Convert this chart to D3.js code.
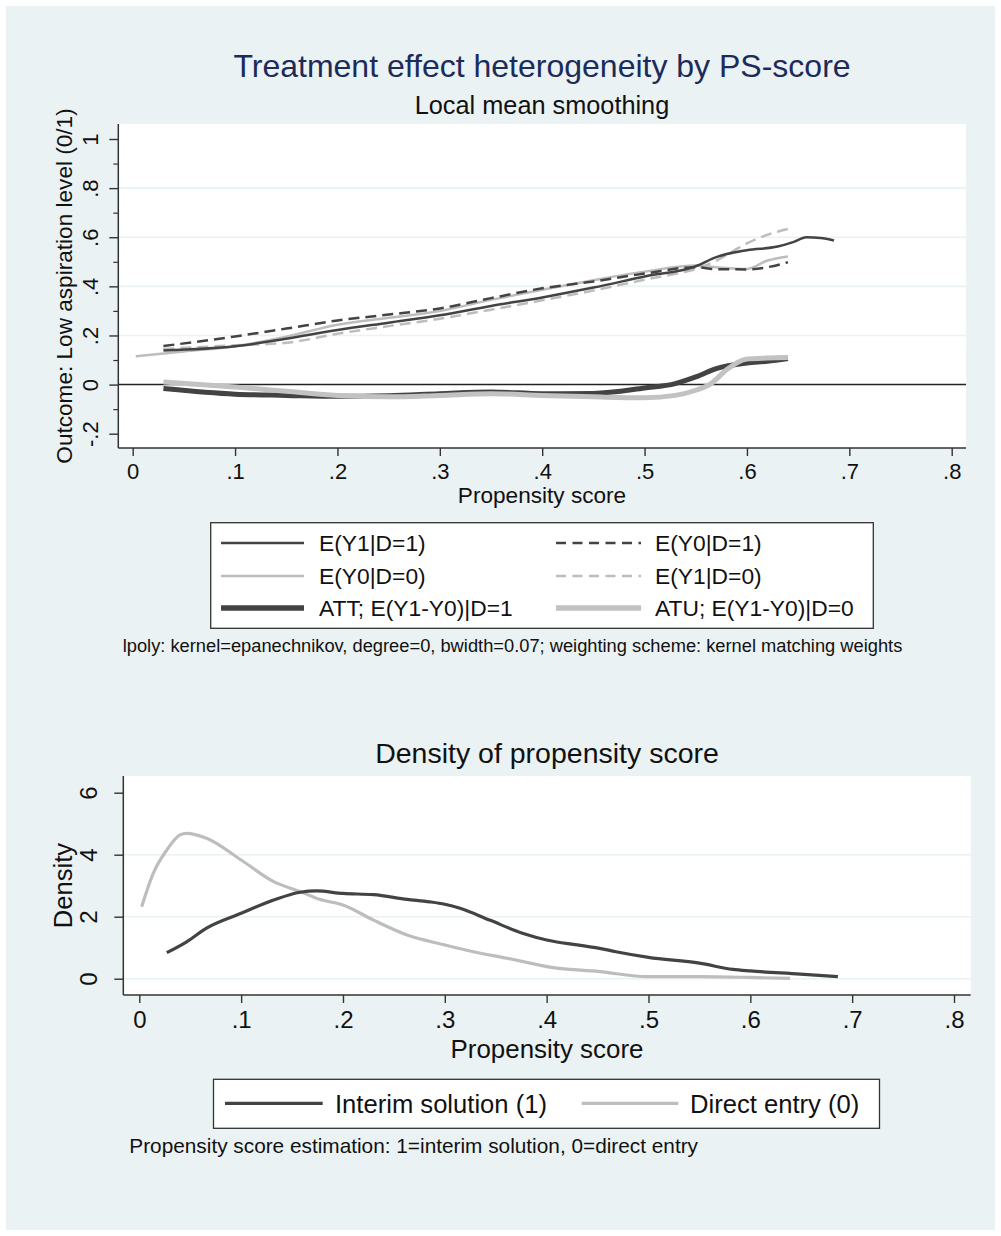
<!DOCTYPE html>
<html>
<head>
<meta charset="utf-8">
<script src="https://cdn.jsdelivr.net/npm/d3@7"></script>
<style>
  body { margin: 0; background: #fff; }
  text { font-family: 'Liberation Sans', Arial, Helvetica, sans-serif; fill: #111; }
</style>
</head>
<body>
<svg id="chart" width="1001" height="1236"></svg>
<script>
// ---- top panel: local mean smoothing (lpoly) ----
var y1d1X = [0.03, 0.1, 0.15, 0.2, 0.25, 0.3, 0.35, 0.4, 0.45, 0.5, 0.55, 0.57, 0.6, 0.63, 0.645, 0.658, 0.672, 0.685];
var y1d1Y = [0.139, 0.156, 0.187, 0.222, 0.252, 0.282, 0.32, 0.355, 0.395, 0.44, 0.482, 0.519, 0.547, 0.562, 0.58, 0.6, 0.597, 0.587];

var y0d1X = [0.03, 0.1, 0.15, 0.2, 0.25, 0.3, 0.35, 0.4, 0.45, 0.5, 0.55, 0.57, 0.6, 0.62, 0.64];
var y0d1Y = [0.157, 0.196, 0.228, 0.261, 0.285, 0.31, 0.352, 0.392, 0.42, 0.452, 0.478, 0.47, 0.469, 0.478, 0.498];

var y0d0X = [0.003, 0.05, 0.1, 0.15, 0.2, 0.25, 0.3, 0.35, 0.4, 0.45, 0.5, 0.55, 0.57, 0.6, 0.62, 0.64];
var y0d0Y = [0.115, 0.135, 0.156, 0.195, 0.244, 0.272, 0.3, 0.345, 0.386, 0.425, 0.46, 0.485, 0.478, 0.471, 0.505, 0.522];

var y1d0X = [0.03, 0.1, 0.15, 0.2, 0.25, 0.3, 0.35, 0.4, 0.45, 0.5, 0.53, 0.55, 0.57, 0.6, 0.62, 0.64];
var y1d0Y = [0.145, 0.16, 0.17, 0.207, 0.238, 0.268, 0.305, 0.343, 0.383, 0.427, 0.451, 0.47, 0.505, 0.575, 0.61, 0.634];

var attX = [0.03, 0.1, 0.15, 0.2, 0.25, 0.3, 0.35, 0.4, 0.45, 0.5, 0.53, 0.55, 0.57, 0.6, 0.62, 0.64];
var attY = [-0.016, -0.039, -0.044, -0.048, -0.045, -0.037, -0.03, -0.037, -0.036, -0.014, 0.004, 0.031, 0.065, 0.088, 0.095, 0.106];

var atuX = [0.03, 0.1, 0.15, 0.2, 0.25, 0.3, 0.35, 0.4, 0.45, 0.5, 0.53, 0.55, 0.565, 0.58, 0.6, 0.62, 0.64];
var atuY = [0.011, -0.01, -0.027, -0.044, -0.05, -0.044, -0.037, -0.044, -0.05, -0.054, -0.044, -0.023, 0.004, 0.06, 0.104, 0.108, 0.11];

var topLegend = ["E(Y1|D=1)", "E(Y0|D=1)", "E(Y0|D=0)", "E(Y1|D=0)", "ATT; E(Y1-Y0)|D=1", "ATU; E(Y1-Y0)|D=0"];
var topYTicks = [-0.2, 0, 0.2, 0.4, 0.6, 0.8, 1];
var topYMinor = [-0.1, 0.1, 0.3, 0.5, 0.7, 0.9];
var topGrid = [0.2, 0.4, 0.6, 0.8];

// ---- bottom panel: density of propensity score ----
var interimX = [0.027, 0.0465, 0.066, 0.1, 0.132, 0.158, 0.174, 0.2, 0.23, 0.263, 0.285, 0.3, 0.315, 0.344, 0.377, 0.4, 0.43, 0.452, 0.468, 0.5, 0.55, 0.583, 0.6, 0.649, 0.686];
var interimY = [0.84, 1.19, 1.63, 2.11, 2.54, 2.79, 2.83, 2.75, 2.71, 2.56, 2.48, 2.4, 2.27, 1.89, 1.46, 1.25, 1.09, 0.98, 0.87, 0.69, 0.5, 0.3, 0.25, 0.15, 0.065];

var directX = [0.0023, 0.0137, 0.027, 0.04, 0.0465, 0.066, 0.1, 0.132, 0.158, 0.177, 0.2, 0.23, 0.263, 0.3, 0.328, 0.361, 0.393, 0.4, 0.452, 0.5, 0.55, 0.6, 0.639];
var directY = [2.32, 3.4, 4.15, 4.64, 4.69, 4.53, 3.83, 3.13, 2.81, 2.56, 2.38, 1.89, 1.41, 1.09, 0.87, 0.66, 0.44, 0.39, 0.23, 0.065, 0.065, 0.04, 0.01];

var bottomLegend = ["Interim solution (1)", "Direct entry (0)"];
var bottomYTicks = [0, 2, 4, 6];
var bottomGrid = [0, 2, 4];

var xTicks = [0, 0.1, 0.2, 0.3, 0.4, 0.5, 0.6, 0.7, 0.8];

var dark = "#434343";
var light = "#bdbdbd";

var svg = d3.select("#chart");

svg.append("rect").attr("width", 1001).attr("height", 1236).attr("fill", "#fff");
svg.append("rect").attr("x", 6).attr("y", 6).attr("width", 989).attr("height", 1224).attr("fill", "#eaf2f3");

// stata-like labels: .2 instead of 0.2
function fmt(v) {
  return String(+v.toFixed(2)).replace(/^(-?)0\./, "$1.");
}

function zip(xs, ys) {
  return xs.map(function(x, i) { return [x, ys[i]]; });
}

function drawPanel(p) {
  var g = svg.append("g");

  g.append("rect")
    .attr("x", p.left).attr("y", p.top)
    .attr("width", p.right - p.left).attr("height", p.bottom - p.top)
    .attr("fill", "#fff");

  g.selectAll(".grid")
    .data(p.grid)
    .enter()
    .append("line")
    .attr("x1", p.left).attr("x2", p.right)
    .attr("y1", function(d) { return p.y(d); })
    .attr("y2", function(d) { return p.y(d); })
    .attr("stroke", "#eaf2f3")
    .attr("stroke-width", 1.6);

  if (p.zeroLine) {
    g.append("line")
      .attr("x1", p.left).attr("x2", p.right)
      .attr("y1", p.y(0)).attr("y2", p.y(0))
      .attr("stroke", "#222").attr("stroke-width", 1.5);
  }

  // y axis, labels turned like stata does
  var ya = g.append("g")
    .attr("transform", "translate(" + p.left + ",0)")
    .attr("color", "#333")
    .call(d3.axisLeft(p.y).tickValues(p.yTicks).tickSize(9).tickFormat(fmt));
  ya.select(".domain").remove();
  ya.selectAll("line").attr("stroke-width", 1.4);
  ya.selectAll("text")
    .attr("transform", "rotate(-90)")
    .attr("x", 0).attr("y", -p.yLabelOff).attr("dy", 0)
    .attr("text-anchor", "middle")
    .style("font-size", p.tickFont + "px");

  if (p.yMinor) {
    var ym = g.append("g")
      .attr("transform", "translate(" + p.left + ",0)")
      .attr("color", "#333")
      .call(d3.axisLeft(p.y).tickValues(p.yMinor).tickSize(5).tickFormat(""));
    ym.select(".domain").remove();
    ym.selectAll("line").attr("stroke-width", 1.2);
  }

  var xa = g.append("g")
    .attr("transform", "translate(0," + p.bottom + ")")
    .attr("color", "#333")
    .call(d3.axisBottom(p.x).tickValues(xTicks).tickSize(8).tickFormat(fmt));
  xa.select(".domain").remove();
  xa.selectAll("line").attr("stroke-width", 1.4);
  xa.selectAll("text")
    .attr("y", p.xLabelOff).attr("dy", 0)
    .style("font-size", p.tickFont + "px");

  g.append("line")
    .attr("x1", p.left).attr("x2", p.left)
    .attr("y1", p.top).attr("y2", p.bottom)
    .attr("stroke", "#333").attr("stroke-width", 1.5);
  g.append("line")
    .attr("x1", p.left).attr("x2", p.right)
    .attr("y1", p.bottom).attr("y2", p.bottom)
    .attr("stroke", "#333").attr("stroke-width", 1.5);

  var line = d3.line()
    .x(function(d) { return p.x(d[0]); })
    .y(function(d) { return p.y(d[1]); })
    .curve(d3.curveMonotoneX);

  p.series.forEach(function(s) {
    g.append("path")
      .datum(s.data)
      .attr("d", line)
      .attr("fill", "none")
      .attr("stroke", s.color)
      .attr("stroke-width", s.width)
      .attr("stroke-dasharray", s.dash || null);
  });
}

// ---------- top panel ----------
var topSeries = [
  { data: zip(attX, attY), color: dark, width: 5 },
  { data: zip(atuX, atuY), color: "#c2c2c2", width: 5 },
  { data: zip(y1d0X, y1d0Y), color: light, width: 2.5, dash: "11,6" },
  { data: zip(y0d0X, y0d0Y), color: light, width: 2.5 },
  { data: zip(y0d1X, y0d1Y), color: dark, width: 2.5, dash: "11,6" },
  { data: zip(y1d1X, y1d1Y), color: dark, width: 2.5 }
];

drawPanel({
  left: 118.3, right: 966, top: 124, bottom: 448,
  x: d3.scaleLinear().domain([0, 0.8]).range([132.7, 951.7]),
  y: d3.scaleLinear().domain([-0.2, 1]).range([433.7, 139]),
  yTicks: topYTicks, yMinor: topYMinor, grid: topGrid, zeroLine: true,
  tickFont: 22, yLabelOff: 20, xLabelOff: 31,
  series: topSeries
});

svg.append("text")
  .attr("x", 542).attr("y", 77)
  .attr("text-anchor", "middle")
  .style("font-size", "32px").style("fill", "#1c2b5a")
  .text("Treatment effect heterogeneity by PS-score");

svg.append("text")
  .attr("x", 542).attr("y", 114)
  .attr("text-anchor", "middle")
  .style("font-size", "25.3px")
  .text("Local mean smoothing");

svg.append("text")
  .attr("transform", "translate(72,286) rotate(-90)")
  .attr("text-anchor", "middle")
  .style("font-size", "22.6px")
  .text("Outcome: Low aspiration level (0/1)");

svg.append("text")
  .attr("x", 542).attr("y", 503)
  .attr("text-anchor", "middle")
  .style("font-size", "22.6px")
  .text("Propensity score");

// top legend, two columns
var topKeys = [
  { color: dark, width: 2.5 }, { color: dark, width: 2.5, dash: "10,6.5" },
  { color: light, width: 2.5 }, { color: light, width: 2.5, dash: "10,6.5" },
  { color: dark, width: 5.5 }, { color: "#c2c2c2", width: 5.5 }
];
var tl = svg.append("g");
tl.append("rect")
  .attr("x", 210.7).attr("y", 522.7).attr("width", 662.6).attr("height", 105.6)
  .attr("fill", "#fff").attr("stroke", "#333").attr("stroke-width", 1.3);
var colKey = [[221, 304, 319], [556, 641, 655]];
var rowY = [543, 576, 608];
topLegend.forEach(function(label, i) {
  var c = colKey[i % 2], ry = rowY[Math.floor(i / 2)];
  var k = topKeys[i];
  tl.append("line")
    .attr("x1", c[0]).attr("x2", c[1]).attr("y1", ry).attr("y2", ry)
    .attr("stroke", k.color).attr("stroke-width", k.width)
    .attr("stroke-dasharray", k.dash || null);
  tl.append("text")
    .attr("x", c[2]).attr("y", ry).attr("dy", "0.36em")
    .style("font-size", "22.8px")
    .text(label);
});

svg.append("text")
  .attr("x", 122.7).attr("y", 652)
  .style("font-size", "18.3px")
  .text("lpoly: kernel=epanechnikov, degree=0, bwidth=0.07; weighting scheme: kernel matching weights");

// ---------- bottom panel ----------
drawPanel({
  left: 123.3, right: 970.7, top: 776, bottom: 995,
  x: d3.scaleLinear().domain([0, 0.8]).range([139.3, 954]),
  y: d3.scaleLinear().domain([0, 6]).range([978.7, 792.7]),
  yTicks: bottomYTicks, yMinor: null, grid: bottomGrid, zeroLine: false,
  tickFont: 24, yLabelOff: 26.6, xLabelOff: 33.3,
  series: [
    { data: zip(directX, directY), color: light, width: 3.2 },
    { data: zip(interimX, interimY), color: dark, width: 3.2 }
  ]
});

svg.append("text")
  .attr("x", 547).attr("y", 763)
  .attr("text-anchor", "middle")
  .style("font-size", "28.5px")
  .text("Density of propensity score");

svg.append("text")
  .attr("transform", "translate(71.7,885.5) rotate(-90)")
  .attr("text-anchor", "middle")
  .style("font-size", "25.6px")
  .text("Density");

svg.append("text")
  .attr("x", 547).attr("y", 1057.5)
  .attr("text-anchor", "middle")
  .style("font-size", "25.9px")
  .text("Propensity score");

var bl = svg.append("g");
bl.append("rect")
  .attr("x", 213.5).attr("y", 1079.3).attr("width", 666).attr("height", 49)
  .attr("fill", "#fff").attr("stroke", "#333").attr("stroke-width", 1.3);
var bKeys = [[225, 322.7, 335, dark], [581.7, 678.3, 690, light]];
bottomLegend.forEach(function(label, i) {
  var k = bKeys[i];
  bl.append("line")
    .attr("x1", k[0]).attr("x2", k[1]).attr("y1", 1103.3).attr("y2", 1103.3)
    .attr("stroke", k[3]).attr("stroke-width", 3.2);
  bl.append("text")
    .attr("x", k[2]).attr("y", 1103.3).attr("dy", "0.36em")
    .style("font-size", "25.6px")
    .text(label);
});

svg.append("text")
  .attr("x", 129.3).attr("y", 1153.3)
  .style("font-size", "20.8px")
  .text("Propensity score estimation: 1=interim solution, 0=direct entry");
</script>
</body>
</html>
